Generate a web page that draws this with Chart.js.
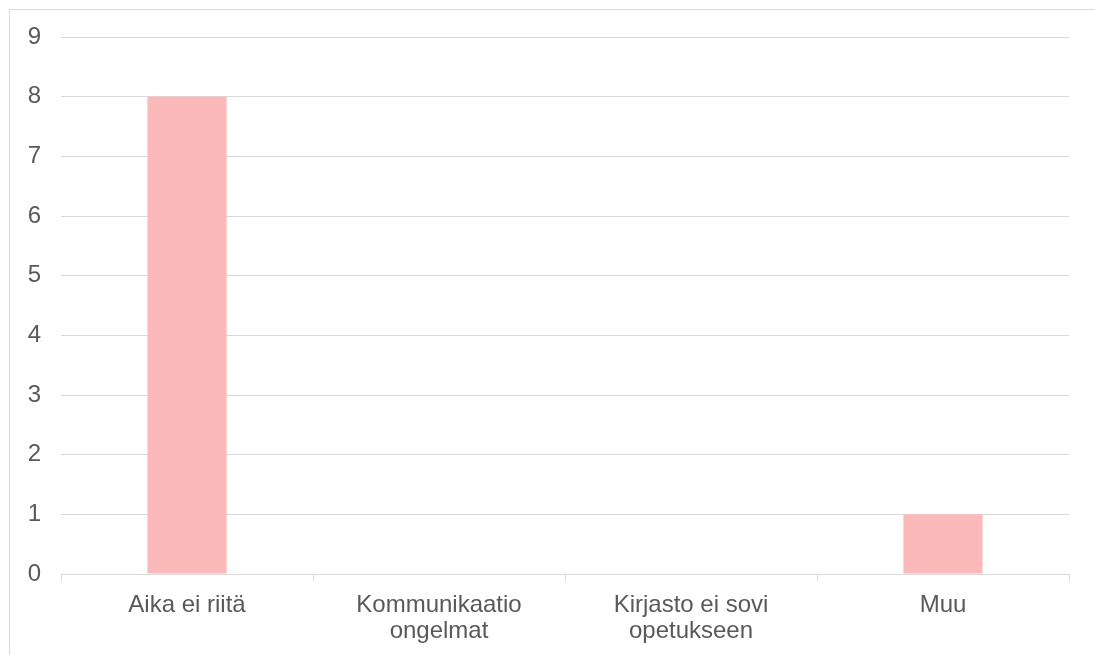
<!DOCTYPE html>
<html>
<head>
<meta charset="utf-8">
<script src="https://cdn.jsdelivr.net/npm/chart.js@4/dist/chart.umd.min.js"></script>
<style>
  html, body { margin: 0; padding: 0; background: #fff; }
  #wrap { width: 1095px; height: 655px; }
</style>
</head>
<body>
<div id="wrap"><canvas id="chart" width="1095" height="655"></canvas></div>
<script>
const categories = ["Aika ei riitä", ["Kommunikaatio", "ongelmat"], ["Kirjasto ei sovi", "opetukseen"], "Muu"];
const counts = [8, 0, 0, 1];
const yTicks = [0, 1, 2, 3, 4, 5, 6, 7, 8, 9];

const GRID = "#d9d9d9";
const TEXT = "#595959";
const FONT = "'Liberation Sans', Arial, sans-serif";

// light frame round the chart, open on the right and bottom
const frame = {
    id: "frame",
    beforeDraw(chart) {
        const ctx = chart.ctx;
        ctx.save();
        ctx.strokeStyle = GRID;
        ctx.lineWidth = 1;
        ctx.strokeRect(9.5, 9.5, 3000, 3000);
        ctx.restore();
    }
};

new Chart(document.getElementById("chart"), {
    type: "bar",
    data: {
        labels: categories,
        datasets: [{
            data: counts,
            backgroundColor: "#fbbab9",
            borderWidth: 0,
            categoryPercentage: 1,
            barPercentage: 0.314,
        }]
    },
    options: {
        responsive: false,
        animation: false,
        layout: { padding: { top: 37, right: 26, bottom: 0, left: 0 } },
        plugins: {
            legend: { display: false },
            tooltip: { enabled: false },
        },
        scales: {
            x: {
                grid: { color: GRID, drawOnChartArea: false, tickLength: 7, offset: true },
                border: { color: GRID },
                ticks: {
                    color: TEXT,
                    font: { family: FONT, size: 24, lineHeight: 1.1 },
                    padding: 11,
                    maxRotation: 0,
                    autoSkip: false,
                },
                afterFit(scale) { scale.height = 81; },
            },
            y: {
                min: 0,
                max: 9,
                afterBuildTicks(scale) { scale.ticks = yTicks.map(v => ({ value: v })); },
                grid: { color: GRID, drawTicks: false },
                border: { display: false },
                ticks: {
                    color: TEXT,
                    font: { family: FONT, size: 24 },
                    padding: 20,
                },
                afterFit(scale) { scale.width = 61; },
            }
        }
    },
    plugins: [frame]
});
</script>
</body>
</html>
